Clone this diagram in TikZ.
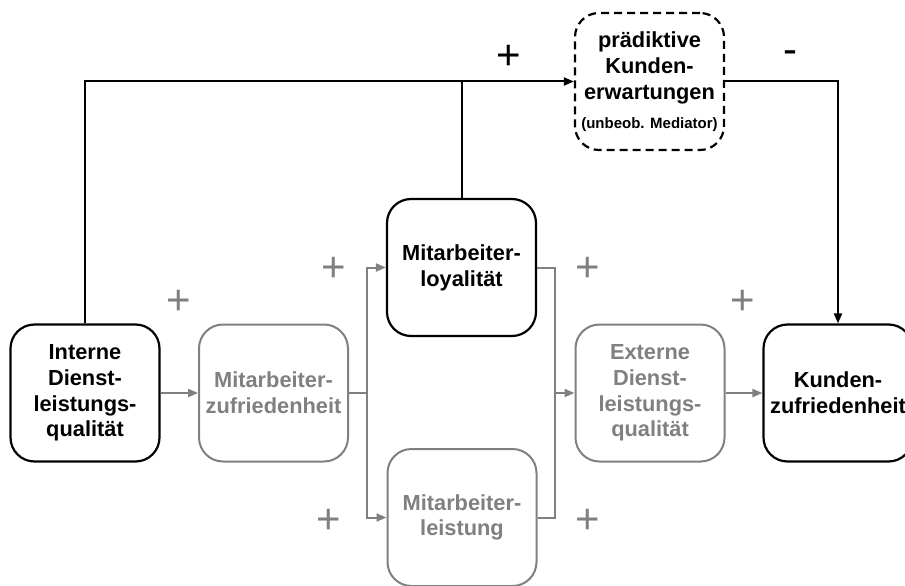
\documentclass[tikz,border=0pt]{standalone}
\usepackage{fontspec}
\setmainfont{Liberation Sans}
\usetikzlibrary{arrows.meta}
\definecolor{lgray}{RGB}{128,128,128}
\begin{document}
\begin{tikzpicture}[x=1pt,y=-1pt,
  boxbase/.style={rounded corners=24pt, minimum width=149pt, minimum height=137pt,
    align=center, inner sep=0pt, font=\bfseries\fontsize{21.8}{25.8}\selectfont},
  blackbox/.style={boxbase, draw=black, line width=2.2pt, text=black},
  graybox/.style={boxbase, draw=lgray, line width=2pt, text=lgray},
  dashbox/.style={boxbase, draw=black, line width=2.2pt, dash pattern=on 8pt off 5pt},
  blk/.style={draw=black, line width=2pt},
  gry/.style={draw=lgray, line width=2pt},
  tip/.style={-{Triangle[length=10pt,width=8pt]}},
  sign/.style={inner sep=0pt, font=\fontsize{42}{42}\selectfont}
]
\clip (0,0) rectangle (905,586);
\fill[white] (0,0) rectangle (905,586);

% boxes
\node[blackbox] (idq) at (85,393) {Interne\\Dienst-\\leistungs-\\qualität};
\node[graybox]  (mz)  at (273.5,393) {Mitarbeiter-\\zufriedenheit};
\node[blackbox] (loy) at (461.5,267.5) {Mitarbeiter-\\loyalität};
\node[graybox]  (ml)  at (462,517.5) {Mitarbeiter-\\leistung};
\node[graybox]  (edq) at (650,393) {Externe\\Dienst-\\leistungs-\\qualität};
\node[blackbox] (kz)  at (838,393) {Kunden-\\zufriedenheit};
\node[dashbox]  (med) at (649.5,81.5) {prädiktive\\Kunden-\\erwartungen\\[3pt]{\fontsize{15}{17}\selectfont (unbeob. Mediator)}};

% black connectors
\draw[blk,tip] (idq.north) |- (med.west);
\draw[blk] (loy.north) -- (loy.north |- med.west);
\draw[blk,tip] (med.east) -| (kz.north);

% gray connectors
\coordinate (b1) at (367,393);
\coordinate (b2) at (555,393);
\draw[gry,tip] (idq.east) -- (mz.west);
\draw[gry] (mz.east) -- (b1);
\draw[gry,tip] (b1) |- (loy.west);
\draw[gry,tip] (b1) |- (ml.west);
\draw[gry] (loy.east) -| (b2);
\draw[gry] (ml.east) -| (b2);
\draw[gry,tip] (b2) -- (edq.west);
\draw[gry,tip] (edq.east) -- (kz.west);

% signs
\node[sign] (p0) at (509,57) {+};
\node[sign] (m0) at (790,57) {-};
\node[sign,text=lgray] (p1) at (179,302) {+};
\node[sign,text=lgray] (p2) at (334,269) {+};
\node[sign,text=lgray] (p3) at (588,269) {+};
\node[sign,text=lgray] (p4) at (743,302) {+};
\node[sign,text=lgray] (p5) at (329,521) {+};
\node[sign,text=lgray] (p6) at (588,521) {+};
\end{tikzpicture}
\end{document}
